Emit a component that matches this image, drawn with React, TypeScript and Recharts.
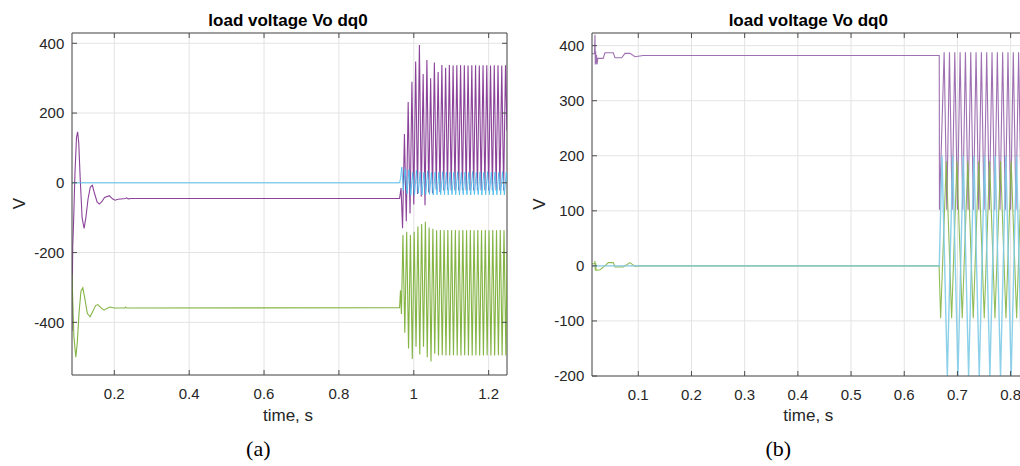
import React from 'react';
import { LineChart, Line, XAxis, YAxis, CartesianGrid, ReferenceLine } from 'recharts';

// ---------- tick labels ----------
const aXTicks = [0.2, 0.4, 0.6, 0.8, 1, 1.2];
const aYTicks = [-400, -200, 0, 200, 400];
const bXTicks = [0.1, 0.2, 0.3, 0.4, 0.5, 0.6, 0.7, 0.8];
const bYTicks = [-200, -100, 0, 100, 200, 300, 400];

const aXDomain: [number, number] = [0.087, 1.249];
const aYDomain: [number, number] = [-551, 429.5];
const bXDomain: [number, number] = [0.013, 0.827];
const bYDomain: [number, number] = [-200, 423];

// ---------- panel (a) series: [time s, volts] ----------
const aPurple: [number, number][] = [
  [0.087, -425], [0.0875, -330], [0.089, -180], [0.091, -120], [0.095, 30], [0.099, 130],
  [0.102, 146], [0.105, 115], [0.109, 10], [0.114, -100], [0.1193, -131], [0.124, -100],
  [0.13, -45], [0.136, -12], [0.1414, -7], [0.147, -30], [0.154, -55], [0.16, -61],
  [0.166, -55], [0.174, -42], [0.1868, -37], [0.195, -46], [0.202, -50], [0.21, -47],
  [0.23, -45], [0.233, -43], [0.237, -46], [0.245, -45], [0.962, -45],
  [0.966, -15], [0.97, -130], [0.975, 140], [0.98, -110], [0.985, 232], [0.99, -88],
  [0.995, 290], [1.0, -62], [1.005, 348], [1.01, -32], [1.015, 395], [1.02, -40],
  [1.025, 312], [1.03, -64], [1.035, 352], [1.04, -28], [1.045, 300], [1.05, -30],
  [1.055, 345], [1.06, -20], [1.065, 318], [1.07, -26], [1.075, 338], [1.08, -22],
  [1.085, 330], [1.09, -20], [1.095, 338], [1.1, -22], [1.105, 336], [1.11, -21],
  [1.115, 337], [1.12, -22], [1.125, 337], [1.13, -21], [1.135, 337], [1.14, -22],
  [1.145, 336], [1.15, -21], [1.155, 337], [1.16, -22], [1.165, 337], [1.17, -21],
  [1.175, 336], [1.18, -22], [1.185, 337], [1.19, -21], [1.195, 337], [1.2, -22],
  [1.205, 336], [1.21, -21], [1.215, 337], [1.22, -22], [1.225, 337], [1.23, -21],
  [1.235, 336], [1.24, -22], [1.245, 337], [1.249, 150],
];

const aGreen: [number, number][] = [
  [0.087, -260], [0.088, -300], [0.092, -440], [0.0972, -500], [0.101, -460], [0.106, -370],
  [0.111, -310], [0.1158, -301], [0.121, -330], [0.128, -375], [0.1353, -384], [0.142, -370],
  [0.15, -352], [0.1558, -349], [0.164, -358], [0.1726, -365], [0.18, -360], [0.1886, -356],
  [0.2, -359], [0.228, -359], [0.23, -356], [0.233, -359], [0.962, -358],
  [0.9645, -308], [0.967, -376], [0.971, -150], [0.976, -430], [0.981, -140], [0.986, -475],
  [0.991, -150], [0.996, -505], [1.001, -140], [1.006, -470], [1.011, -125], [1.016, -492],
  [1.021, -118], [1.026, -470], [1.031, -112], [1.036, -500], [1.041, -128], [1.046, -512],
  [1.051, -132], [1.056, -490], [1.061, -136], [1.066, -495], [1.071, -135], [1.076, -494],
  [1.081, -136], [1.086, -495], [1.091, -135], [1.096, -495], [1.101, -136], [1.106, -494],
  [1.111, -135], [1.116, -495], [1.121, -136], [1.126, -495], [1.131, -135], [1.136, -494],
  [1.141, -136], [1.146, -495], [1.151, -135], [1.156, -495], [1.161, -136], [1.166, -494],
  [1.171, -135], [1.176, -495], [1.181, -136], [1.186, -495], [1.191, -135], [1.196, -494],
  [1.201, -136], [1.206, -495], [1.211, -135], [1.216, -495], [1.221, -136], [1.226, -494],
  [1.231, -135], [1.236, -495], [1.241, -136], [1.246, -495], [1.249, -200],
];

const aCyan: [number, number][] = [
  [0.087, 0], [0.962, 0], [0.965, 15], [0.968, 45], [0.972, -22], [0.977, 40], [0.982, -32],
  [0.987, 38], [0.992, -36], [0.997, 30], [1.002, -34], [1.007, 36], [1.012, -30],
  [1.017, 32], [1.022, -35], [1.027, 30], [1.032, -34], [1.037, 34], [1.042, -33],
  [1.047, 30], [1.052, -35], [1.057, 31], [1.062, -34], [1.067, 30], [1.072, -34],
  [1.077, 32], [1.082, -34], [1.087, 30], [1.092, -35], [1.097, 31], [1.102, -34],
  [1.107, 30], [1.112, -34], [1.117, 32], [1.122, -35], [1.127, 30], [1.132, -34],
  [1.137, 31], [1.142, -34], [1.147, 30], [1.152, -35], [1.157, 32], [1.162, -34],
  [1.167, 30], [1.172, -34], [1.177, 31], [1.182, -35], [1.187, 30], [1.192, -34],
  [1.197, 32], [1.202, -34], [1.207, 30], [1.212, -35], [1.217, 31], [1.222, -34],
  [1.227, 30], [1.232, -34], [1.237, 32], [1.242, -35], [1.247, 30], [1.249, 0],
];

// ---------- panel (b) series ----------
const bPurple: [number, number][] = [
  [0.013, 386], [0.0178, 385], [0.0186, 420], [0.0192, 366], [0.0199, 390], [0.0207, 367],
  [0.0215, 383], [0.0225, 366], [0.024, 377], [0.034, 377], [0.0374, 387], [0.053, 387],
  [0.0562, 378], [0.0688, 378], [0.075, 386], [0.0844, 386], [0.0938, 380], [0.109, 382],
  [0.6658, 382], [0.6662, 102], [0.675, 388], [0.68, 102], [0.685, 388], [0.69, 102],
  [0.695, 388], [0.7, 102], [0.705, 388], [0.71, 102], [0.715, 388], [0.72, 102],
  [0.725, 388], [0.73, 102], [0.735, 388], [0.74, 102], [0.745, 388], [0.75, 102],
  [0.755, 388], [0.76, 102], [0.765, 388], [0.77, 102], [0.775, 388], [0.78, 102],
  [0.785, 388], [0.79, 102], [0.795, 388], [0.8, 102], [0.805, 388], [0.81, 102],
  [0.815, 388], [0.82, 102], [0.825, 388], [0.83, 102],
];

const bGreen: [number, number][] = [
  [0.013, 4], [0.018, 4], [0.0186, 9], [0.0192, -8], [0.0199, 5], [0.0206, -8], [0.028, -7],
  [0.0374, 0], [0.0436, 6], [0.053, 6], [0.0562, -2], [0.0718, -2], [0.0844, 6],
  [0.0938, -1], [0.1, 0], [0.6655, 0], [0.6684, -95], [0.679, 190], [0.6891, -95],
  [0.699, 190], [0.709, -95], [0.7195, 190], [0.7297, -95], [0.74, 190], [0.7504, -95],
  [0.7605, 190], [0.7705, -95], [0.781, 190], [0.7912, -95], [0.801, 190], [0.8113, -95],
  [0.821, 190], [0.831, -95],
];

const bCyan: [number, number][] = [
  [0.013, 0], [0.6658, 0], [0.671, 200], [0.681, -200], [0.691, 200], [0.701, -200],
  [0.711, 200], [0.721, -200], [0.731, 200], [0.741, -200], [0.751, 200], [0.761, -200],
  [0.771, 200], [0.781, -200], [0.791, 200], [0.801, -200], [0.811, 200], [0.821, -200],
  [0.831, 200],
];

// ---------- styling ----------
const FONT = '"Liberation Sans", Arial, sans-serif';
const SERIF = '"Liberation Serif", "Times New Roman", serif';
const AXIS = '#4d4d4d';
const TXT = '#262626';
const GRID = '#e3e3e3';
const PURPLE = '#7E2F8E';
const GREEN = '#77AC30';
const CYAN = '#4DBEEE';

const rows = (pts: [number, number][]) => pts.map(([t, v]) => ({ t, v }));

const makeXTick = (plotTop: number, plotBottom: number) => (props: any) => {
  const { x, payload } = props;
  return (
    <g>
      <line x1={x} y1={plotBottom} x2={x} y2={plotBottom - 5} stroke={AXIS} strokeWidth={1} />
      <line x1={x} y1={plotTop} x2={x} y2={plotTop + 5} stroke={AXIS} strokeWidth={1} />
      <text x={x} y={plotBottom + 24} textAnchor="middle" fill={TXT} fontSize={15} fontFamily={FONT}>
        {String(payload.value)}
      </text>
    </g>
  );
};

const makeYTick = (plotLeft: number, plotRight: number) => (props: any) => {
  const { y, payload } = props;
  return (
    <g>
      <line x1={plotLeft} y1={y} x2={plotLeft + 5} y2={y} stroke={AXIS} strokeWidth={1} />
      <line x1={plotRight} y1={y} x2={plotRight - 5} y2={y} stroke={AXIS} strokeWidth={1} />
      <text x={plotLeft - 7.7} y={y + 5.3} textAnchor="end" fill={TXT} fontSize={15} fontFamily={FONT}>
        {String(payload.value)}
      </text>
    </g>
  );
};

type PanelProps = {
  xDomain: [number, number];
  yDomain: [number, number];
  xTicks: number[];
  yTicks: number[];
  series: { data: [number, number][]; color: string; width: number }[];
  plot: { left: number; right: number; top: number; bottom: number };
  width: number;
};

const Panel = ({ xDomain, yDomain, xTicks, yTicks, series, plot, width }: PanelProps) => (
  <LineChart
    width={width}
    height={466}
    margin={{ top: plot.top, right: width - plot.right, bottom: 466 - plot.bottom - 1, left: plot.left - 1 }}
  >
    <CartesianGrid stroke={GRID} strokeWidth={1} />
    <XAxis
      dataKey="t"
      type="number"
      domain={xDomain}
      ticks={xTicks}
      allowDataOverflow
      height={1}
      tickSize={0}
      tickMargin={0}
      axisLine={{ stroke: AXIS }}
      tickLine={false}
      tick={makeXTick(plot.top, plot.bottom)}
      interval={0}
    />
    <YAxis
      type="number"
      domain={yDomain}
      ticks={yTicks}
      allowDataOverflow
      width={1}
      tickSize={0}
      tickMargin={0}
      axisLine={{ stroke: AXIS }}
      tickLine={false}
      tick={makeYTick(plot.left, plot.right)}
      interval={0}
    />
    <ReferenceLine y={yDomain[1]} stroke={AXIS} strokeWidth={1} />
    <ReferenceLine x={xDomain[1]} stroke={AXIS} strokeWidth={1} />
    {series.map((s, i) => (
      <Line
        key={i}
        data={rows(s.data)}
        dataKey="v"
        type="linear"
        stroke={s.color}
        strokeWidth={s.width}
        strokeOpacity={0.9}
        dot={false}
        activeDot={false}
        isAnimationActive={false}
      />
    ))}
  </LineChart>
);

export default function App() {
  return (
    <div style={{ position: 'fixed', left: 0, top: 0, width: 1020, height: 466, overflow: 'hidden', background: '#fff' }}>
      <div style={{ position: 'absolute', left: 0, top: 0 }}>
        <Panel
          width={520}
          plot={{ left: 72, right: 507, top: 33, bottom: 375 }}
          xDomain={aXDomain}
          yDomain={aYDomain}
          xTicks={aXTicks}
          yTicks={aYTicks}
          series={[
            { data: aPurple, color: PURPLE, width: 1.1 },
            { data: aGreen, color: GREEN, width: 1.1 },
            { data: aCyan, color: CYAN, width: 1 },
          ]}
        />
      </div>
      <div style={{ position: 'absolute', left: 520, top: 0 }}>
        <Panel
          width={520}
          plot={{ left: 72, right: 505, top: 33, bottom: 376 }}
          xDomain={bXDomain}
          yDomain={bYDomain}
          xTicks={bXTicks}
          yTicks={bYTicks}
          series={[
            { data: bPurple, color: '#9461a8', width: 1.1 },
            { data: bGreen, color: '#84b544', width: 1.1 },
            { data: bCyan, color: '#7fcbe8', width: 1.4 },
          ]}
        />
      </div>
      <svg width={1020} height={466} style={{ position: 'absolute', left: 0, top: 0, pointerEvents: 'none' }}>
        <text x={288} y={26} textAnchor="middle" fontSize={17} fontWeight="bold" fontFamily={FONT} fill="#000">load voltage Vo dq0</text>
        <text x={288} y={421} textAnchor="middle" fontSize={17} fontFamily={FONT} fill={TXT}>time, s</text>
        <text transform="translate(25,203.5) rotate(-90)" textAnchor="middle" fontSize={17} fontFamily={FONT} fill={TXT}>V</text>
        <text x={258.3} y={456} textAnchor="middle" fontSize={22} fontFamily={SERIF} fill="#000">(a)</text>

        <text x={808.3} y={26} textAnchor="middle" fontSize={17} fontWeight="bold" fontFamily={FONT} fill="#000">load voltage Vo dq0</text>
        <text x={808.3} y={421.3} textAnchor="middle" fontSize={17} fontFamily={FONT} fill={TXT}>time, s</text>
        <text transform="translate(545,204) rotate(-90)" textAnchor="middle" fontSize={17} fontFamily={FONT} fill={TXT}>V</text>
        <text x={778.3} y={456} textAnchor="middle" fontSize={22} fontFamily={SERIF} fill="#000">(b)</text>
      </svg>
    </div>
  );
}
